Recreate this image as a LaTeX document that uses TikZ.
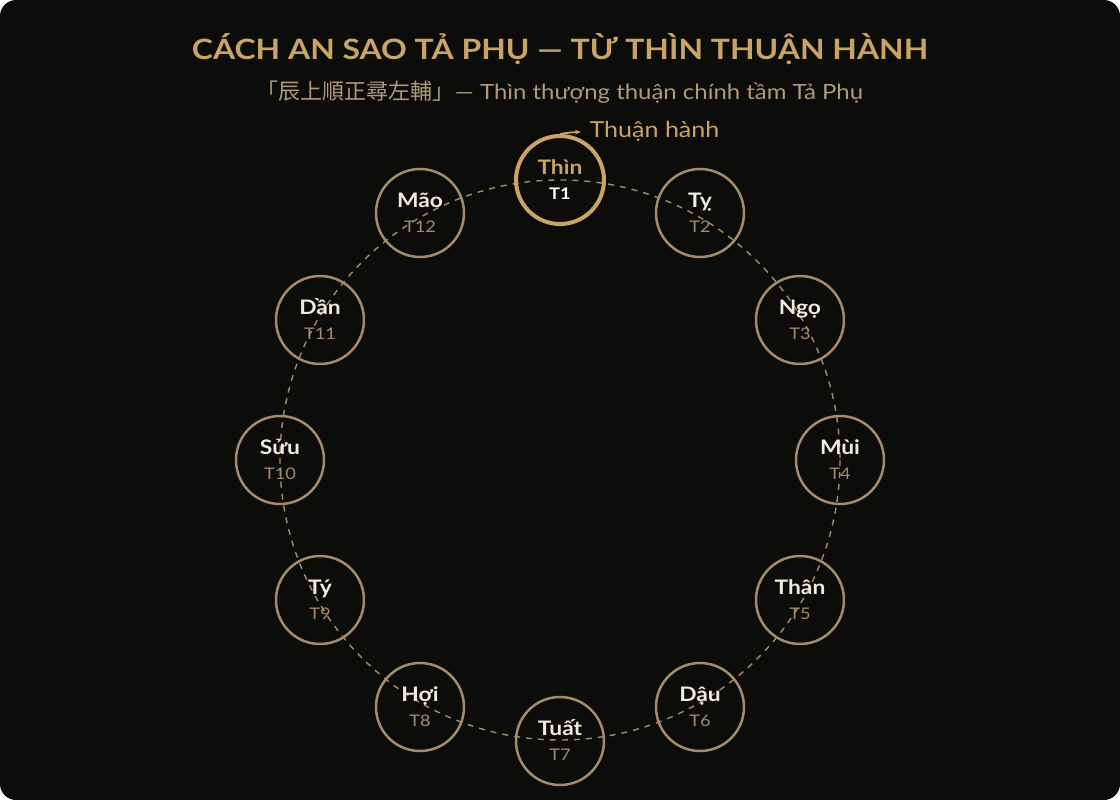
\documentclass[tikz,border=0pt]{standalone}
\usepackage{fontspec}
\setmainfont{Lato}
\newfontfamily\rong{Lato}[FakeStretch=1.14]
\newfontfamily\cjk{Noto Sans CJK TC}
\usetikzlibrary{arrows.meta}

\definecolor{nen}{HTML}{0C0C0A}
\definecolor{vang}{HTML}{C9A465}
\definecolor{nau}{HTML}{A38B6B}
\definecolor{phu}{HTML}{B09A78}
\definecolor{kem}{HTML}{F0EBDD}

\tikzset{
  cung/.style={circle, draw=nau, line width=2.5pt, minimum size=88pt, inner sep=0pt},
  cungchinh/.style={cung, draw=vang, line width=4pt},
  ten/.style={anchor=base, text=kem, font=\rong\fontsize{20}{24}\selectfont\bfseries},
  so/.style={anchor=base, text=nau, font=\rong\fontsize{16}{20}\selectfont},
  vong/.style={draw=nau, line width=1.4pt, dash pattern=on 6pt off 6pt},
  huong/.style={draw=vang, line width=1.8pt, -{Stealth[length=6pt]}},
}

\begin{document}
\begin{tikzpicture}[x=1pt, y=-1pt]
\useasboundingbox (0,0) rectangle (1120,800);
\fill[nen, rounded corners=16pt] (0,0) rectangle (1120,800);

\node[text=vang, font=\rong\fontsize{28}{36}\selectfont\bfseries] (tieude) at (560,49) {CÁCH AN SAO TẢ PHỤ — TỪ THÌN THUẬN HÀNH};
\node[text=phu, font=\rong\fontsize{21}{26}\selectfont] (phude) at (560,92) {{\cjk\fontsize{22}{26}\selectfont 「辰上順正尋左輔」}— Thìn thượng thuận chính tầm Tả Phụ};

\draw[vong] (560,460) circle[radius=280];

\node[cungchinh] (s1) at (560,180) {};
\node[cung] (s2) at (700,213) {};
\node[cung] (s3) at (800,320) {};
\node[cung] (s4) at (840,460) {};
\node[cung] (s5) at (800,600) {};
\node[cung] (s6) at (700,707) {};
\node[cung] (s7) at (560,741) {};
\node[cung] (s8) at (420,707) {};
\node[cung] (s9) at (320,600) {};
\node[cung] (s10) at (280,460) {};
\node[cung] (s11) at (320,320) {};
\node[cung] (s12) at (420,213) {};

% ten cung
\node[ten, text=vang] (t1) at (560,174) {Thìn};
\node[ten] (t2) at (700,207) {Tỵ};
\node[ten] (t3) at (800,314) {Ngọ};
\node[ten] (t4) at (840,454) {Mùi};
\node[ten] (t5) at (800,594) {Thân};
\node[ten] (t6) at (700,701) {Dậu};
\node[ten] (t7) at (560,735) {Tuất};
\node[ten] (t8) at (420,701) {Hợi};
\node[ten] (t9) at (320,594) {Tý};
\node[ten] (t10) at (280,454) {Sửu};
\node[ten] (t11) at (320,314) {Dần};
\node[ten] (t12) at (420,207) {Mão};

% thu tu
\node[so, text=white, font=\rong\fontsize{16}{20}\selectfont\bfseries] (n1) at (560,199) {T1};
\node[so] (n2) at (700,232) {T2};
\node[so] (n3) at (800,339) {T3};
\node[so] (n4) at (840,479) {T4};
\node[so] (n5) at (800,619) {T5};
\node[so] (n6) at (700,726) {T6};
\node[so] (n7) at (560,760) {T7};
\node[so] (n8) at (420,726) {T8};
\node[so] (n9) at (320,619) {T9};
\node[so] (n10) at (280,479) {T10};
\node[so] (n11) at (320,339) {T11};
\node[so] (n12) at (420,232) {T12};

\coordinate (mui) at (581,132);
\node[anchor=west, text=vang, font=\rong\fontsize{22}{26}\selectfont] (nhan) at (586,131) {Thuận hành};
\draw[huong] (s1.north) to[bend left=4] (mui);
\end{tikzpicture}
\end{document}
